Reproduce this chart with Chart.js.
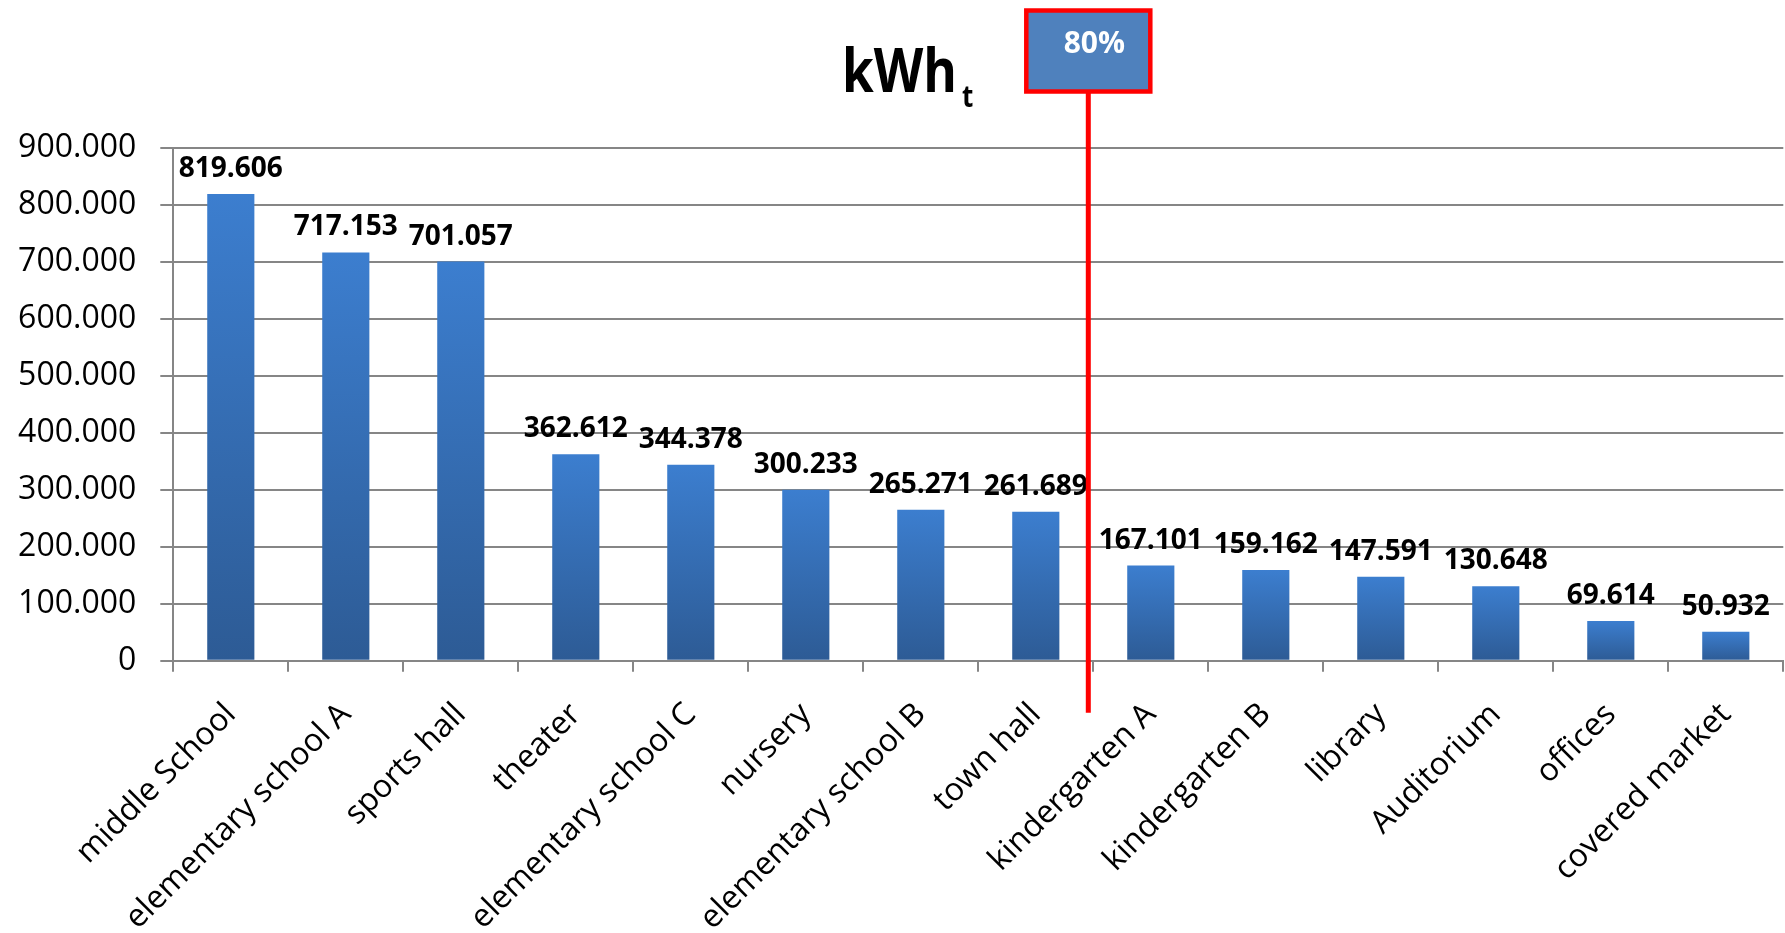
<!DOCTYPE html>
<html>
<head>
<meta charset="utf-8">
<script src="https://cdn.jsdelivr.net/npm/chart.js@4/dist/chart.umd.min.js"></script>
<style>
  html, body { margin: 0; padding: 0; background: #fff; }
  #wrap { width: 1785px; height: 933px; }
</style>
</head>
<body>
<div id="wrap"><canvas id="chart" width="1785" height="933"></canvas></div>
<script>
// ===== DATA =====
const categories = ['middle School', 'elementary school A', 'sports hall', 'theater',
  'elementary school C', 'nursery', 'elementary school B', 'town hall',
  'kindergarten A', 'kindergarten B', 'library', 'Auditorium', 'offices', 'covered market'];
const energyKWh = [819606, 717153, 701057, 362612, 344378, 300233, 265271, 261689,
  167101, 159162, 147591, 130648, 69614, 50932];
const yMax  = 900000;
const yStep = 100000;
const titleMain = 'kWh';
const titleSub  = 't';
const cutoffLabel = '80%';
const cutoffLastIndex = 7;   // town hall is the last bar inside the 80%

// 819606 -> "819.606"
function fmt(v) {
  return String(Math.round(v)).replace(/\B(?=(\d{3})+(?!\d))/g, '.');
}

const GRID = '#868686';
const FONT = '"Open Sans", "DejaVu Sans", sans-serif';

// ===== PLUGINS =====
const barLabels = {
  id: 'barLabels',
  afterDatasetsDraw(chart) {
    const ctx = chart.ctx;
    const meta = chart.getDatasetMeta(0);
    ctx.save();
    ctx.font = 'bold 28px ' + FONT;
    ctx.fillStyle = '#000';
    ctx.textAlign = 'center';
    ctx.textBaseline = 'alphabetic';
    meta.data.forEach(function (bar, i) {
      ctx.fillText(fmt(energyKWh[i]), bar.x, bar.y - 17);
    });
    ctx.restore();
  }
};

const titleAndCutoff = {
  id: 'titleAndCutoff',
  afterDraw(chart) {
    const ctx = chart.ctx;
    const xs = chart.scales.x, ys = chart.scales.y;

    // title kWh_t, slightly condensed like the original
    ctx.save();
    ctx.fillStyle = '#000';
    ctx.textBaseline = 'alphabetic';
    ctx.textAlign = 'left';
    ctx.translate(842, 92);
    ctx.scale(0.84, 1);
    ctx.font = 'bold 61px ' + FONT;
    ctx.fillText(titleMain, 0, 0);
    const w = ctx.measureText(titleMain).width;
    ctx.font = 'bold 31px ' + FONT;
    ctx.fillText(titleSub, w + 6, 15);
    ctx.restore();

    // red cutoff line between town hall and kindergarten A
    const lx = (xs.getPixelForTick(cutoffLastIndex) + xs.getPixelForTick(cutoffLastIndex + 1)) / 2 - 5;
    ctx.save();
    ctx.strokeStyle = '#ff0000';
    ctx.lineWidth = 5;
    ctx.beginPath();
    ctx.moveTo(lx, 92);
    ctx.lineTo(lx, ys.bottom + 52);
    ctx.stroke();

    // 80% box
    const bw = 124, bh = 81, by = 10.5;
    ctx.fillStyle = '#4f81bd';
    ctx.fillRect(lx - bw / 2, by, bw, bh);
    ctx.lineWidth = 4.5;
    ctx.strokeRect(lx - bw / 2, by, bw, bh);
    ctx.fillStyle = '#fff';
    ctx.font = 'bold 30px ' + FONT;
    ctx.textAlign = 'center';
    ctx.textBaseline = 'middle';
    ctx.fillText(cutoffLabel, lx + 6, 44);
    ctx.restore();
  }
};

// ===== CHART =====
const chartEl = document.getElementById('chart');
new Chart(chartEl, {
  type: 'bar',
  data: {
    labels: categories,
    datasets: [{
      data: energyKWh,
      backgroundColor: function (c) {
        const chart = c.chart;
        const ys = chart.scales.y;
        if (!ys || !c.parsed) return '#3a78c6';
        const top = ys.getPixelForValue(c.parsed.y);
        const bottom = ys.getPixelForValue(0);
        if (!isFinite(top) || !isFinite(bottom) || top === bottom) return '#3a78c6';
        const g = chart.ctx.createLinearGradient(0, top, 0, bottom);
        g.addColorStop(0, '#3c7ecf');
        g.addColorStop(1, '#2d5b95');
        return g;
      },
      borderWidth: 0,
      categoryPercentage: 1,
      barPercentage: 0.41
    }]
  },
  options: {
    responsive: false,
    animation: false,
    devicePixelRatio: 1,
    layout: { padding: { top: 148.3, right: 1.7, left: 0, bottom: 0 } },
    plugins: {
      legend: { display: false },
      title: { display: false },
      tooltip: { enabled: false }
    },
    scales: {
      x: {
        afterFit: function (s) { s.height = 272.3; },
        grid: {
          display: true,
          drawOnChartArea: false,
          drawTicks: true,
          tickLength: 11,
          offset: true,
          color: GRID,
          lineWidth: 2
        },
        border: { display: true, color: GRID, width: 2 },
        ticks: {
          autoSkip: false,
          minRotation: 45,
          maxRotation: 45,
          padding: 24,
          color: '#000',
          font: { family: FONT, size: 32 }
        }
      },
      y: {
        min: 0,
        max: yMax,
        afterFit: function (s) { s.width = 173.3; },
        grid: {
          color: GRID,
          lineWidth: 2,
          drawTicks: true,
          tickLength: 13
        },
        border: { display: true, color: GRID, width: 2 },
        ticks: {
          stepSize: yStep,
          padding: 24,
          color: '#000',
          font: { family: FONT, size: 32 },
          callback: function (v) { return fmt(v); }
        }
      }
    }
  },
  plugins: [barLabels, titleAndCutoff]
});
</script>
</body>
</html>
